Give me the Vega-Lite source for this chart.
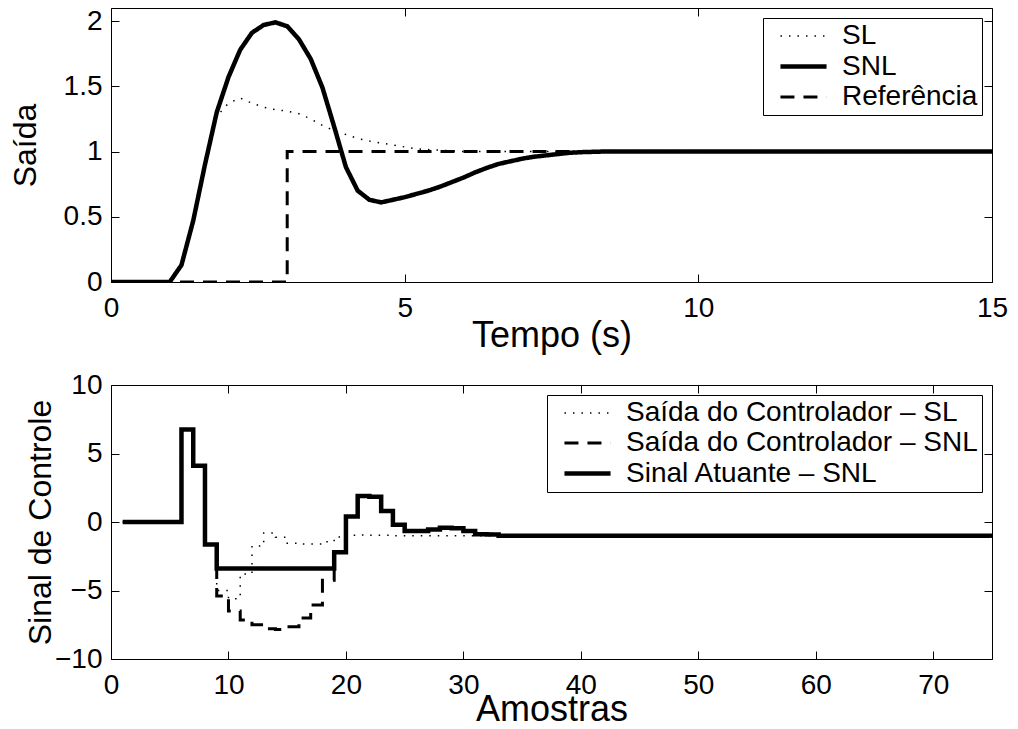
{
  "$schema": "https://vega.github.io/schema/vega-lite/v6.json",
  "padding": {"left": 8, "top": 6, "right": 5, "bottom": 0},
  "background": "white",
  "bounds": "flush",
  "spacing": 103,
  "datasets": {
    "top": [
      {"t": 0, "v": 0, "s": "SNL"}, {"t": 1.0, "v": 0, "s": "SNL"}, {"t": 1.2, "v": 0.13, "s": "SNL"}, {"t": 1.4, "v": 0.47, "s": "SNL"},
      {"t": 1.6, "v": 0.9, "s": "SNL"}, {"t": 1.8, "v": 1.3, "s": "SNL"}, {"t": 2.0, "v": 1.57, "s": "SNL"}, {"t": 2.2, "v": 1.78, "s": "SNL"},
      {"t": 2.4, "v": 1.91, "s": "SNL"}, {"t": 2.6, "v": 1.97, "s": "SNL"}, {"t": 2.8, "v": 1.99, "s": "SNL"}, {"t": 3.0, "v": 1.96, "s": "SNL"},
      {"t": 3.2, "v": 1.86, "s": "SNL"}, {"t": 3.4, "v": 1.71, "s": "SNL"}, {"t": 3.6, "v": 1.49, "s": "SNL"}, {"t": 3.8, "v": 1.19, "s": "SNL"},
      {"t": 4.0, "v": 0.88, "s": "SNL"}, {"t": 4.2, "v": 0.7, "s": "SNL"}, {"t": 4.4, "v": 0.63, "s": "SNL"}, {"t": 4.6, "v": 0.61, "s": "SNL"},
      {"t": 4.8, "v": 0.63, "s": "SNL"}, {"t": 5.0, "v": 0.65, "s": "SNL"}, {"t": 5.2, "v": 0.675, "s": "SNL"}, {"t": 5.4, "v": 0.7, "s": "SNL"},
      {"t": 5.6, "v": 0.73, "s": "SNL"}, {"t": 5.8, "v": 0.765, "s": "SNL"}, {"t": 6.0, "v": 0.8, "s": "SNL"}, {"t": 6.2, "v": 0.84, "s": "SNL"},
      {"t": 6.4, "v": 0.875, "s": "SNL"}, {"t": 6.6, "v": 0.905, "s": "SNL"}, {"t": 6.8, "v": 0.925, "s": "SNL"}, {"t": 7.0, "v": 0.945, "s": "SNL"},
      {"t": 7.2, "v": 0.96, "s": "SNL"}, {"t": 7.4, "v": 0.97, "s": "SNL"}, {"t": 7.6, "v": 0.98, "s": "SNL"}, {"t": 7.8, "v": 0.99, "s": "SNL"},
      {"t": 8.0, "v": 0.995, "s": "SNL"}, {"t": 8.4, "v": 1.0, "s": "SNL"}, {"t": 15, "v": 1.0, "s": "SNL"},
      {"t": 0, "v": 0, "s": "SL"}, {"t": 1.0, "v": 0, "s": "SL"}, {"t": 1.2, "v": 0.13, "s": "SL"}, {"t": 1.4, "v": 0.47, "s": "SL"},
      {"t": 1.6, "v": 0.9, "s": "SL"}, {"t": 1.8, "v": 1.27, "s": "SL"}, {"t": 2.0, "v": 1.37, "s": "SL"}, {"t": 2.2, "v": 1.41, "s": "SL"},
      {"t": 2.4, "v": 1.37, "s": "SL"}, {"t": 2.6, "v": 1.34, "s": "SL"}, {"t": 2.8, "v": 1.32, "s": "SL"}, {"t": 3.0, "v": 1.31, "s": "SL"},
      {"t": 3.2, "v": 1.29, "s": "SL"}, {"t": 3.4, "v": 1.25, "s": "SL"}, {"t": 3.6, "v": 1.2, "s": "SL"}, {"t": 3.8, "v": 1.16, "s": "SL"},
      {"t": 4.0, "v": 1.13, "s": "SL"}, {"t": 4.2, "v": 1.1, "s": "SL"}, {"t": 4.4, "v": 1.08, "s": "SL"}, {"t": 4.6, "v": 1.065, "s": "SL"},
      {"t": 4.8, "v": 1.05, "s": "SL"}, {"t": 5.0, "v": 1.035, "s": "SL"}, {"t": 5.2, "v": 1.02, "s": "SL"}, {"t": 5.6, "v": 1.01, "s": "SL"},
      {"t": 6.0, "v": 1.0, "s": "SL"}, {"t": 15, "v": 1.0, "s": "SL"},
      {"t": 0, "v": 0, "s": "Referência"}, {"t": 3, "v": 0, "s": "Referência"}, {"t": 3, "v": 1, "s": "Referência"}, {"t": 15, "v": 1, "s": "Referência"}
    ],
    "bottom": [
      {"k": 1, "v": 0, "s": "Sinal Atuante – SNL"}, {"k": 6, "v": 6.75, "s": "Sinal Atuante – SNL"}, {"k": 7, "v": 4.1, "s": "Sinal Atuante – SNL"},
      {"k": 8, "v": -1.65, "s": "Sinal Atuante – SNL"}, {"k": 9, "v": -3.4, "s": "Sinal Atuante – SNL"}, {"k": 19, "v": -2.2, "s": "Sinal Atuante – SNL"},
      {"k": 20, "v": 0.4, "s": "Sinal Atuante – SNL"}, {"k": 21, "v": 1.9, "s": "Sinal Atuante – SNL"}, {"k": 22, "v": 1.85, "s": "Sinal Atuante – SNL"},
      {"k": 23, "v": 0.8, "s": "Sinal Atuante – SNL"}, {"k": 24, "v": -0.2, "s": "Sinal Atuante – SNL"}, {"k": 25, "v": -0.65, "s": "Sinal Atuante – SNL"},
      {"k": 26, "v": -0.65, "s": "Sinal Atuante – SNL"}, {"k": 27, "v": -0.55, "s": "Sinal Atuante – SNL"}, {"k": 28, "v": -0.42, "s": "Sinal Atuante – SNL"},
      {"k": 29, "v": -0.45, "s": "Sinal Atuante – SNL"}, {"k": 30, "v": -0.65, "s": "Sinal Atuante – SNL"}, {"k": 31, "v": -0.9, "s": "Sinal Atuante – SNL"},
      {"k": 32, "v": -0.92, "s": "Sinal Atuante – SNL"}, {"k": 33, "v": -1.0, "s": "Sinal Atuante – SNL"}, {"k": 75, "v": -1.0, "s": "Sinal Atuante – SNL"},
      {"k": 1, "v": 0, "s": "Saída do Controlador – SNL"}, {"k": 6, "v": 6.75, "s": "Saída do Controlador – SNL"}, {"k": 7, "v": 4.1, "s": "Saída do Controlador – SNL"},
      {"k": 8, "v": -1.65, "s": "Saída do Controlador – SNL"}, {"k": 9, "v": -5.4, "s": "Saída do Controlador – SNL"}, {"k": 10, "v": -6.5, "s": "Saída do Controlador – SNL"},
      {"k": 11, "v": -7.15, "s": "Saída do Controlador – SNL"}, {"k": 12, "v": -7.5, "s": "Saída do Controlador – SNL"}, {"k": 13, "v": -7.8, "s": "Saída do Controlador – SNL"},
      {"k": 14, "v": -7.85, "s": "Saída do Controlador – SNL"}, {"k": 15, "v": -7.65, "s": "Saída do Controlador – SNL"}, {"k": 16, "v": -7.0, "s": "Saída do Controlador – SNL"},
      {"k": 17, "v": -6.05, "s": "Saída do Controlador – SNL"}, {"k": 18, "v": -4.25, "s": "Saída do Controlador – SNL"}, {"k": 19, "v": -2.2, "s": "Saída do Controlador – SNL"},
      {"k": 20, "v": 0.4, "s": "Saída do Controlador – SNL"}, {"k": 21, "v": 1.9, "s": "Saída do Controlador – SNL"}, {"k": 22, "v": 1.85, "s": "Saída do Controlador – SNL"},
      {"k": 23, "v": 0.8, "s": "Saída do Controlador – SNL"}, {"k": 24, "v": -0.2, "s": "Saída do Controlador – SNL"}, {"k": 25, "v": -0.65, "s": "Saída do Controlador – SNL"},
      {"k": 27, "v": -0.55, "s": "Saída do Controlador – SNL"}, {"k": 28, "v": -0.42, "s": "Saída do Controlador – SNL"}, {"k": 30, "v": -0.65, "s": "Saída do Controlador – SNL"},
      {"k": 31, "v": -0.9, "s": "Saída do Controlador – SNL"}, {"k": 33, "v": -1.0, "s": "Saída do Controlador – SNL"}, {"k": 75, "v": -1.0, "s": "Saída do Controlador – SNL"},
      {"k": 1, "v": 0, "s": "Saída do Controlador – SL"}, {"k": 6, "v": 6.75, "s": "Saída do Controlador – SL"}, {"k": 7, "v": 4.1, "s": "Saída do Controlador – SL"},
      {"k": 8, "v": -1.65, "s": "Saída do Controlador – SL"}, {"k": 9, "v": -5.0, "s": "Saída do Controlador – SL"}, {"k": 10, "v": -5.6, "s": "Saída do Controlador – SL"},
      {"k": 11, "v": -3.8, "s": "Saída do Controlador – SL"}, {"k": 12, "v": -1.75, "s": "Saída do Controlador – SL"}, {"k": 13, "v": -0.8, "s": "Saída do Controlador – SL"},
      {"k": 14, "v": -1.12, "s": "Saída do Controlador – SL"}, {"k": 15, "v": -1.55, "s": "Saída do Controlador – SL"}, {"k": 16, "v": -1.6, "s": "Saída do Controlador – SL"},
      {"k": 17, "v": -1.6, "s": "Saída do Controlador – SL"}, {"k": 18, "v": -1.45, "s": "Saída do Controlador – SL"}, {"k": 19, "v": -1.1, "s": "Saída do Controlador – SL"},
      {"k": 20, "v": -0.97, "s": "Saída do Controlador – SL"}, {"k": 21, "v": -0.95, "s": "Saída do Controlador – SL"}, {"k": 22, "v": -0.97, "s": "Saída do Controlador – SL"},
      {"k": 24, "v": -1.0, "s": "Saída do Controlador – SL"}, {"k": 75, "v": -1.0, "s": "Saída do Controlador – SL"}
    ]
  },
  "vconcat": [
    {
      "width": 881,
      "height": 274,
      "data": {"name": "top"},
      "layer": [
        {
          "mark": {"type": "line", "color": "black", "clip": true},
          "encoding": {
            "x": {"field": "t", "type": "quantitative", "scale": {"domain": [0, 15], "nice": false, "zero": false},
                  "axis": {"values": [0, 5, 10, 15], "title": "Tempo (s)", "format": "d", "titlePadding": -4}},
            "y": {"field": "v", "type": "quantitative", "scale": {"domain": [0, 2.1], "nice": false, "zero": false},
                  "axis": {"values": [0, 0.5, 1, 1.5, 2], "title": "Saída", "format": ".2~f", "titlePadding": 21}},
            "strokeDash": {"field": "s", "type": "nominal",
                           "scale": {"domain": ["SL", "SNL", "Referência"], "range": [[1.5, 7], [1, 0], [14, 9]]},
                           "legend": {"title": null}},
            "strokeWidth": {"field": "s", "type": "nominal",
                            "scale": {"type": "ordinal", "domain": ["SL", "SNL", "Referência"], "range": [1.5, 4.5, 3]},
                            "legend": {"title": null}},
            "order": {"value": null}
          }
        },
        {
          "mark": {"type": "line", "opacity": 0},
          "encoding": {
            "x": {"field": "t", "type": "quantitative", "axis": {"orient": "top", "values": [0, 5, 10, 15], "labels": false, "title": null}},
            "y": {"field": "v", "type": "quantitative", "axis": {"orient": "right", "values": [0, 0.5, 1, 1.5, 2], "labels": false, "title": null}}
          }
        }
      ],
      "resolve": {"axis": {"x": "independent", "y": "independent"}}
    },
    {
      "width": 881,
      "height": 274,
      "data": {"name": "bottom"},
      "layer": [
        {
          "mark": {"type": "line", "color": "black", "interpolate": "step-after", "clip": true},
          "encoding": {
            "x": {"field": "k", "type": "quantitative", "scale": {"domain": [0, 75], "nice": false, "zero": false},
                  "axis": {"values": [0, 10, 20, 30, 40, 50, 60, 70], "title": "Amostras", "format": "d", "titlePadding": -7}},
            "y": {"field": "v", "type": "quantitative", "scale": {"domain": [-10, 10], "nice": false, "zero": false},
                  "axis": {"values": [-10, -5, 0, 5, 10], "title": "Sinal de Controle", "format": "d", "titlePadding": -3}},
            "strokeDash": {"field": "s", "type": "nominal",
                           "scale": {"domain": ["Saída do Controlador – SL", "Saída do Controlador – SNL", "Sinal Atuante – SNL"], "range": [[1.5, 7], [14, 9], [1, 0]]},
                           "legend": {"title": null}},
            "strokeWidth": {"field": "s", "type": "nominal",
                            "scale": {"type": "ordinal", "domain": ["Saída do Controlador – SL", "Saída do Controlador – SNL", "Sinal Atuante – SNL"], "range": [1.5, 3, 4.5]},
                            "legend": {"title": null}},
            "order": {"value": null}
          }
        },
        {
          "mark": {"type": "line", "opacity": 0},
          "encoding": {
            "x": {"field": "k", "type": "quantitative", "axis": {"orient": "top", "values": [0, 10, 20, 30, 40, 50, 60, 70], "labels": false, "title": null}},
            "y": {"field": "v", "type": "quantitative", "axis": {"orient": "right", "values": [-10, -5, 0, 5, 10], "labels": false, "title": null}}
          }
        }
      ],
      "resolve": {"axis": {"x": "independent", "y": "independent"}}
    }
  ],
  "resolve": {
    "scale": {"x": "independent", "y": "independent", "strokeDash": "independent", "strokeWidth": "independent"},
    "legend": {"strokeDash": "independent", "strokeWidth": "independent"}
  },
  "config": {
    "font": "Liberation Sans",
    "view": {"stroke": "black", "strokeWidth": 1},
    "axis": {
      "domain": false, "grid": false, "tickColor": "black", "tickSize": -8, "tickWidth": 1,
      "labelFont": "Liberation Sans", "labelFontSize": 28, "labelColor": "black",
      "labelFlush": false, "labelOverlap": false,
      "titleFont": "Liberation Sans", "titleFontSize": 32, "titleFontWeight": "normal", "titleColor": "black"
    },
    "axisX": {"labelPadding": 20, "titleFontSize": 36},
    "axisY": {"labelPadding": 17},
    "legend": {
      "orient": "top-right", "offset": 10, "fillColor": "white", "strokeColor": "black", "strokeWidth": 1,
      "padding": 4, "cornerRadius": 0, "labelFont": "Liberation Sans", "labelFontSize": 28, "labelColor": "black",
      "labelLimit": 800, "symbolType": "M-1.92,0L1.92,0", "symbolSize": 576, "symbolOffset": 22,
      "symbolStrokeColor": "black", "labelOffset": 24, "rowPadding": 2
    }
  }
}
